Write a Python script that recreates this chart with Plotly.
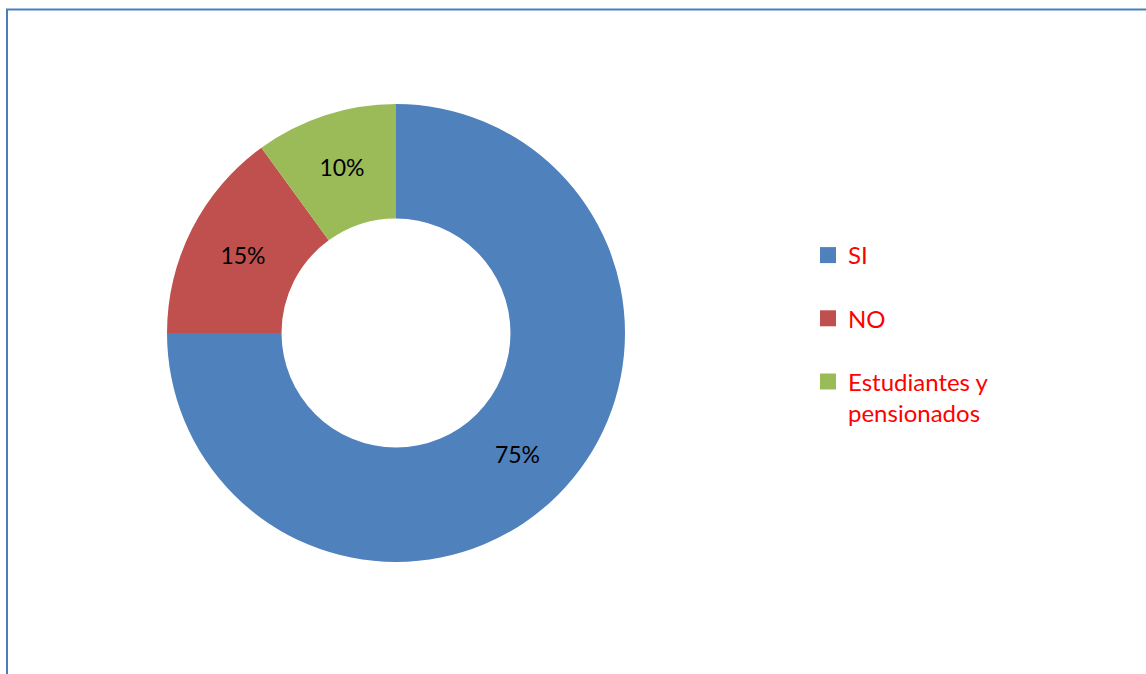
import plotly.graph_objects as go

categories = ["SI", "NO", "Estudiantes y<br>pensionados"]
values = [75, 15, 10]
colors = ["#4F81BD", "#C0504D", "#9BBB59"]

W, H = 1146, 674
OFF = 0  # body margin removed below
FONT = "Lato, Open Sans, sans-serif"


def px(x):
    return (x - OFF) / W


def py(y):
    return 1 - (y - OFF) / H


fig = go.Figure()

fig.add_trace(go.Pie(
    labels=categories,
    values=values,
    sort=False,
    direction="clockwise",
    rotation=0,
    hole=0.5,
    marker=dict(colors=colors, line=dict(width=0)),
    textinfo="percent",
    texttemplate="%{percent:.0%}",
    textposition="inside",
    insidetextorientation="horizontal",
    textfont=dict(family=FONT, size=23, color="black"),
    domain=dict(x=[px(167), px(625)], y=[py(562), py(104)]),
    showlegend=False,
    hoverinfo="label+percent",
))

# legend entries, one per category
for i, (cat, col) in enumerate(zip(categories, colors)):
    fig.add_trace(go.Scatter(
        x=[None], y=[None], mode="markers",
        marker=dict(symbol="square", size=16, color=col),
        name=cat, legendgroup=f"g{i}", showlegend=True,
    ))

fig.update_layout(
    width=W, height=H,
    margin=dict(l=0, r=0, t=0, b=0),
    paper_bgcolor="white",
    plot_bgcolor="white",
    xaxis=dict(visible=False),
    yaxis=dict(visible=False),
    legend=dict(
        x=px(808), y=py(233), xanchor="left", yanchor="top",
        font=dict(family=FONT, size=24, color="#FF0000"),
        tracegroupgap=29,
        valign="top",
        bgcolor="rgba(0,0,0,0)",
    ),
    shapes=[
        dict(type="line", xref="paper", yref="paper",
             x0=px(7), x1=px(7), y0=-0.05, y1=py(9),
             line=dict(color="#4A7EBB", width=2)),
        dict(type="line", xref="paper", yref="paper",
             x0=px(6), x1=1.05, y0=py(9.5), y1=py(9.5),
             line=dict(color="#4A7EBB", width=2)),
    ],
)

fig.write_html(
    "out.html",
    config={"displayModeBar": False},
    post_script="document.body.style.margin='0';document.body.style.padding='0';",
)
